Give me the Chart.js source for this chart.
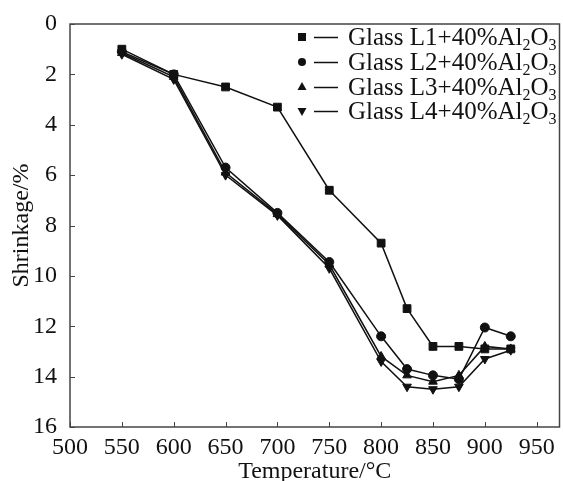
<!DOCTYPE html>
<html>
<head>
<meta charset="utf-8">
<script src="https://cdn.jsdelivr.net/npm/chart.js@4.4.0/dist/chart.umd.min.js"></script>
<style>
  html, body { margin: 0; padding: 0; background: #fff; overflow: hidden; }
  #wrap { width: 563px; height: 481px; overflow: hidden; }
</style>
</head>
<body>
<div id="wrap"><canvas id="chart" width="566" height="481"></canvas></div>
<script>
const temps = [550, 600, 650, 700, 750, 800, 825, 850, 875, 900, 925];
const glassL1 = [1.0, 2.0, 2.5, 3.3, 6.6, 8.7, 11.3, 12.8, 12.8, 12.9, 12.9];
const glassL2 = [1.1, 2.0, 5.7, 7.5, 9.45, 12.4, 13.7, 13.95, 14.1, 12.05, 12.4];
const glassL3 = [1.15, 2.1, 5.9, 7.55, 9.55, 13.2, 13.95, 14.2, 13.95, 12.8, 12.9];
const glassL4 = [1.2, 2.2, 6.0, 7.6, 9.7, 13.4, 14.4, 14.5, 14.4, 13.3, 12.95];
const seriesNames = ['Glass L1+40%Al', 'Glass L2+40%Al', 'Glass L3+40%Al', 'Glass L4+40%Al'];
const xTicks = [500, 550, 600, 650, 700, 750, 800, 850, 900, 950];
const xMax = 972;
const yTicks = [0, 2, 4, 6, 8, 10, 12, 14, 16];

const FONT = '"Liberation Serif", "Times New Roman", serif';
const INK = '#111';
const AXIS = '#444';

const toPoints = (vals) => temps.map((t, i) => ({ x: t, y: vals[i] }));

const styles = [
  { pointStyle: 'rect', pointRadius: 5.5, rotation: 0 },
  { pointStyle: 'circle', pointRadius: 4.5, rotation: 0 },
  { pointStyle: 'triangle', pointRadius: 5, rotation: 0 },
  { pointStyle: 'triangle', pointRadius: 5, rotation: 180 },
];

const datasets = [glassL1, glassL2, glassL3, glassL4].map((vals, i) => ({
  label: seriesNames[i],
  data: toPoints(vals),
  borderColor: INK,
  backgroundColor: INK,
  borderWidth: 1.5,
  pointStyle: styles[i].pointStyle,
  pointRadius: styles[i].pointRadius,
  pointRotation: styles[i].rotation,
  pointBackgroundColor: INK,
  pointBorderColor: INK,
  pointBorderWidth: 1,
  tension: 0,
  fill: false,
}));

// frame round the plot, inward ticks, and the legend with subscripts
const framePlugin = {
  id: 'frame',
  afterDatasetsDraw(chart) {
    const { ctx, chartArea: a, scales } = chart;
    ctx.save();
    ctx.strokeStyle = AXIS;
    ctx.lineWidth = 1.5;
    ctx.strokeRect(a.left, a.top, a.right - a.left, a.bottom - a.top);

    ctx.lineWidth = 1;
    ctx.beginPath();
    xTicks.forEach(v => {
      const px = Math.round(scales.x.getPixelForValue(v)) + 0.5;
      ctx.moveTo(px, a.bottom);
      ctx.lineTo(px, a.bottom - 5);
    });
    yTicks.forEach(v => {
      const py = Math.round(scales.y.getPixelForValue(v)) + 0.5;
      ctx.moveTo(a.left, py);
      ctx.lineTo(a.left + 5, py);
    });
    ctx.stroke();

    // legend
    const rows = [37, 62, 87, 111];
    ctx.fillStyle = INK;
    ctx.strokeStyle = INK;
    rows.forEach((ry, i) => {
      const mx = 302;
      ctx.beginPath();
      if (i === 0) {
        ctx.rect(mx - 4, ry - 4, 8, 8);
      } else if (i === 1) {
        ctx.arc(mx, ry, 4, 0, Math.PI * 2);
      } else if (i === 2) {
        ctx.moveTo(mx, ry - 5);
        ctx.lineTo(mx + 4.5, ry + 3);
        ctx.lineTo(mx - 4.5, ry + 3);
        ctx.closePath();
      } else {
        ctx.moveTo(mx, ry + 5);
        ctx.lineTo(mx + 4.5, ry - 3);
        ctx.lineTo(mx - 4.5, ry - 3);
        ctx.closePath();
      }
      ctx.fill();

      ctx.lineWidth = 1.5;
      ctx.beginPath();
      ctx.moveTo(314, ry + 0.5);
      ctx.lineTo(338, ry + 0.5);
      ctx.stroke();

      ctx.textBaseline = 'alphabetic';
      ctx.textAlign = 'left';
      const base = ry + 8;
      let x = 348;
      ctx.font = '25px ' + FONT;
      ctx.fillText(seriesNames[i], x, base);
      x += ctx.measureText(seriesNames[i]).width;
      ctx.font = '16px ' + FONT;
      ctx.fillText('2', x, base + 5);
      x += ctx.measureText('2').width;
      ctx.font = '25px ' + FONT;
      ctx.fillText('O', x, base);
      x += ctx.measureText('O').width;
      ctx.font = '16px ' + FONT;
      ctx.fillText('3', x, base + 5);
    });
    ctx.restore();
  }
};

const ctx = document.getElementById('chart').getContext('2d');
const chart = new Chart(ctx, {
  type: 'line',
  data: { datasets },
  plugins: [framePlugin],
  options: {
    responsive: false,
    animation: false,
    layout: { padding: { top: 24, right: 0, left: 0, bottom: 0 } },
    plugins: {
      legend: { display: false },
      tooltip: { enabled: false },
    },
    scales: {
      x: {
        type: 'linear',
        min: 500,
        max: xMax,
        // an unlabeled tick at the right edge keeps the last label from padding the plot
        afterBuildTicks: (scale) => {
          scale.ticks = [...xTicks, xMax].map(v => ({ value: v }));
        },
        afterFit: (scale) => { scale.height = 54; },
        grid: { display: false },
        border: { display: false },
        ticks: {
          color: INK,
          font: { family: FONT, size: 24 },
          padding: -2,
          maxRotation: 0,
          autoSkip: false,
          callback: (v) => xTicks.includes(v) ? String(v) : '',
        },
        title: {
          display: true,
          text: 'Temperature/°C',
          color: INK,
          font: { family: FONT, size: 24 },
          padding: { top: 0, bottom: -5.5 },
        },
      },
      y: {
        type: 'linear',
        reverse: true,
        min: 0,
        max: 16,
        afterBuildTicks: (scale) => {
          scale.ticks = yTicks.map(v => ({ value: v }));
        },
        afterFit: (scale) => { scale.width = 70; },
        grid: { display: false },
        border: { display: false },
        ticks: {
          color: INK,
          font: { family: FONT, size: 24 },
          padding: 5,
        },
        title: {
          display: true,
          text: 'Shrinkage/%',
          color: INK,
          font: { family: FONT, size: 24 },
          padding: { top: 7.5, bottom: 0 },
        },
      },
    },
  },
});
</script>
</body>
</html>
